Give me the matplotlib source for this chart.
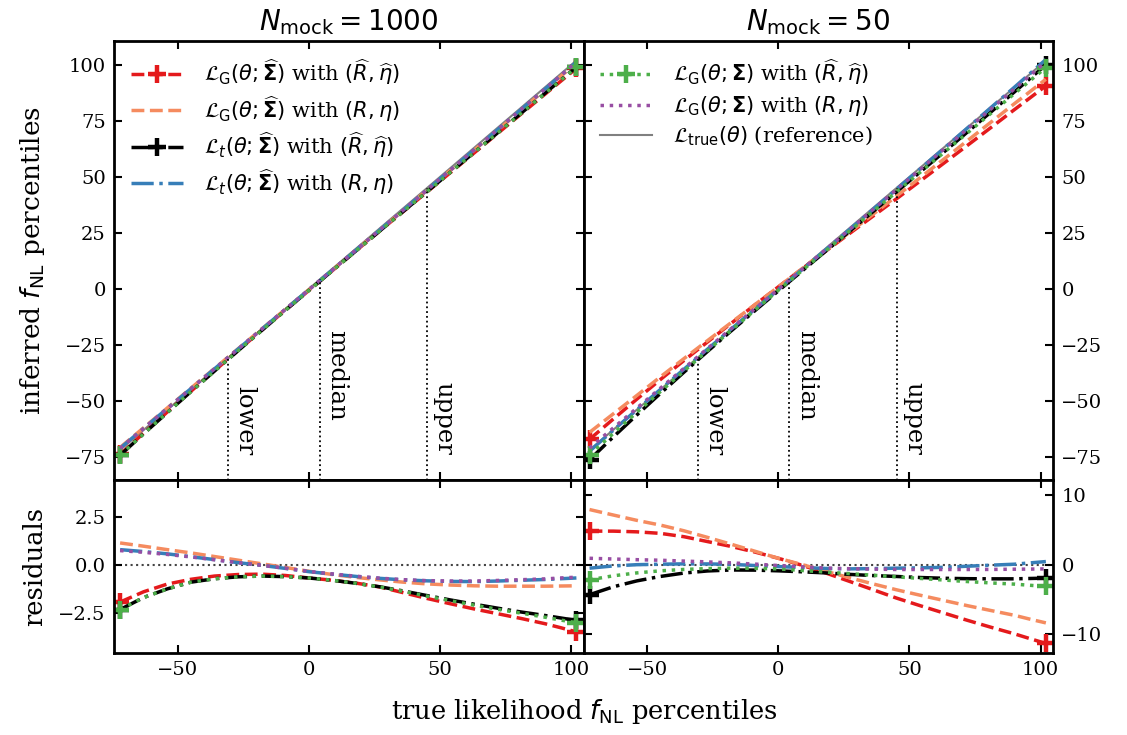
import numpy as np
import matplotlib
matplotlib.use('Agg')
import matplotlib.pyplot as plt

plt.rcParams['font.family'] = 'DejaVu Serif'
plt.rcParams['mathtext.fontset'] = 'dejavusans'
plt.rcParams['axes.linewidth'] = 2.0

# true likelihood percentiles (x axis)
x_true = np.array([-72, -63, -54, -45, -36, -27, -18, -9, 0, 9, 18, 27, 36, 45, 54, 63, 72, 81, 90, 96, 102])
# lower / median / upper of the true likelihood
pct_lines = [-30.7, 4.2, 45.2]
pct_names = ['lower', 'median', 'upper']

# residuals (inferred - true), N_mock = 1000
res1000_G_hat = [-1.94, -1.40, -1.00, -0.75, -0.58, -0.50, -0.48, -0.55, -0.68, -0.80, -0.95, -1.15, -1.45,
                 -1.75, -2.03, -2.30, -2.55, -2.80, -3.07, -3.28, -3.50]
res1000_G_true = [1.15, 0.98, 0.80, 0.63, 0.44, 0.25, 0.06, -0.13, -0.33, -0.50, -0.65, -0.78, -0.90,
                  -0.99, -1.05, -1.09, -1.11, -1.11, -1.11, -1.10, -1.09]
res1000_t_hat = [-2.33, -1.70, -1.25, -0.90, -0.72, -0.62, -0.58, -0.61, -0.68, -0.80, -0.96, -1.14, -1.36,
                 -1.60, -1.83, -2.05, -2.26, -2.46, -2.64, -2.77, -2.90]
res1000_t_true = [0.80, 0.70, 0.58, 0.43, 0.28, 0.12, -0.02, -0.18, -0.35, -0.48, -0.60, -0.70, -0.78,
                  -0.83, -0.86, -0.87, -0.84, -0.80, -0.76, -0.72, -0.68]
res1000_GS_hat = [-2.33, -1.70, -1.25, -0.90, -0.72, -0.62, -0.58, -0.61, -0.68, -0.80, -0.96, -1.15, -1.38,
                  -1.63, -1.87, -2.10, -2.32, -2.52, -2.73, -2.88, -3.02]
res1000_GS_true = [0.75, 0.66, 0.55, 0.42, 0.27, 0.12, -0.02, -0.17, -0.34, -0.47, -0.59, -0.69, -0.77,
                   -0.82, -0.84, -0.84, -0.81, -0.77, -0.73, -0.68, -0.64]

# residuals, N_mock = 50
res50_G_hat = [4.80, 4.80, 4.70, 4.48, 4.00, 3.30, 2.60, 1.80, 0.90, -0.10, -1.20, -2.40, -3.60,
               -4.81, -5.90, -6.95, -8.00, -9.00, -9.95, -10.65, -11.33]
res50_G_true = [7.90, 7.12, 6.35, 5.67, 4.85, 3.90, 2.92, 1.92, 0.90, 0.00, -0.95, -1.88, -2.77,
                -3.62, -4.40, -5.15, -5.90, -6.60, -7.29, -7.85, -8.38]
res50_t_hat = [-4.33, -3.20, -2.35, -1.71, -1.22, -0.92, -0.78, -0.80, -0.90, -1.04, -1.20, -1.41, -1.58,
               -1.71, -1.86, -1.97, -2.03, -2.05, -2.05, -2.00, -1.95]
res50_t_true = [-0.52, -0.20, -0.02, 0.05, 0.10, 0.09, 0.03, -0.14, -0.29, -0.43, -0.56, -0.62, -0.58,
                -0.52, -0.47, -0.40, -0.24, -0.09, 0.05, 0.24, 0.43]
res50_GS_hat = [-2.19, -1.62, -1.20, -0.90, -0.70, -0.58, -0.52, -0.55, -0.62, -0.85, -1.08, -1.30, -1.53,
                -1.76, -1.99, -2.22, -2.44, -2.64, -2.81, -2.98, -3.14]
res50_GS_true = [0.90, 0.80, 0.70, 0.62, 0.50, 0.38, 0.24, 0.07, -0.14, -0.32, -0.50, -0.60, -0.66,
                 -0.71, -0.71, -0.71, -0.71, -0.70, -0.67, -0.65, -0.62]

lab_G_hat = r'$\mathcal{L}_{\rm G}(\theta;\widehat{\mathbf{\Sigma}})$ with $(\widehat{R},\widehat{\eta})$'
lab_G_true = r'$\mathcal{L}_{\rm G}(\theta;\widehat{\mathbf{\Sigma}})$ with $(R,\eta)$'
lab_t_hat = r'$\mathcal{L}_t(\theta;\widehat{\mathbf{\Sigma}})$ with $(\widehat{R},\widehat{\eta})$'
lab_t_true = r'$\mathcal{L}_t(\theta;\widehat{\mathbf{\Sigma}})$ with $(R,\eta)$'
lab_GS_hat = r'$\mathcal{L}_{\rm G}(\theta;\mathbf{\Sigma})$ with $(\widehat{R},\widehat{\eta})$'
lab_GS_true = r'$\mathcal{L}_{\rm G}(\theta;\mathbf{\Sigma})$ with $(R,\eta)$'
lab_ref = r'$\mathcal{L}_{\rm true}(\theta)$ (reference)'

c_red, c_orange, c_blue, c_green, c_purple = '#e41a1c', '#f58b5f', '#377eb8', '#4daf4a', '#984ea3'

fig = plt.figure(figsize=(11.27, 7.35), dpi=100)
gs = fig.add_gridspec(2, 2, height_ratios=[2.53, 1], left=0.1012, right=0.9343,
                      top=0.9442, bottom=0.1116, hspace=0, wspace=0)

panels = [
    ('1000', [res1000_G_hat, res1000_G_true, res1000_t_hat, res1000_t_true, res1000_GS_hat, res1000_GS_true], (-4.6, 4.46), [-2.5, 0, 2.5]),
    ('50', [res50_G_hat, res50_G_true, res50_t_hat, res50_t_true, res50_GS_hat, res50_GS_true], (-12.7, 12.2), [-10, 0, 10]),
]
styles = [
    dict(color=c_red, ls='--', marker='+', label=lab_G_hat),
    dict(color=c_orange, ls='--', label=lab_G_true),
    dict(color='k', ls='-.', marker='+', label=lab_t_hat),
    dict(color=c_blue, ls='-.', label=lab_t_true),
    dict(color=c_green, ls=':', marker='+', label=lab_GS_hat),
    dict(color=c_purple, ls=':', label=lab_GS_true),
]

for col, (nmock, resids, rlim, rticks) in enumerate(panels):
    ax = fig.add_subplot(gs[0, col])
    axr = fig.add_subplot(gs[1, col], sharex=ax)
    for res, st in zip(resids, styles):
        res = np.array(res)
        kw = dict(lw=2.5, markevery=[0, -1], ms=13, mew=3.2)
        ax.plot(x_true, x_true + res, **st, **kw)
        axr.plot(x_true, res, **st, **kw)
    ax.plot(x_true, x_true, color='gray', lw=1.5, zorder=0, label=lab_ref)
    axr.axhline(0, color='#444444', ls=':', lw=1.5, zorder=0)

    ax.set_ylim(-85.2, 110.7)
    ax.set_xlim(-74.3, 104.7)
    for p, name, ty in zip(pct_lines, pct_names, [-43.5, -18.5, -41.5]):
        ax.plot([p, p], [-90, p], color='k', ls=':', lw=1.3)
        ax.text(p + 2.0, ty, name, rotation=-90, ha='left', va='top', fontsize=17.5)

    ax.set_yticks([-75, -50, -25, 0, 25, 50, 75, 100])
    ax.set_xticks([-50, 0, 50, 100])
    axr.set_ylim(*rlim)
    axr.set_yticks(rticks)
    ax.set_title(r'$N_{\rm mock} = %s$' % nmock, fontsize=20, pad=8)

    for a in (ax, axr):
        a.tick_params(direction='in', top=True, right=True, length=6, width=1.5,
                      labelsize=14, pad=6)
    ax.tick_params(labelbottom=False)
    if col == 1:
        for a in (ax, axr):
            a.tick_params(labelleft=False, labelright=True)

    handles, labels = ax.get_legend_handles_labels()
    leg_kw = dict(loc='upper left', frameon=False, fontsize=15, handlelength=2.5,
                  handletextpad=1.0, labelspacing=0.33, borderaxespad=0.4)
    if col == 0:
        ax.legend(handles[:4], labels[:4], **leg_kw)
        ax.set_ylabel(r'inferred $f_{\rm NL}$ percentiles', fontsize=19, labelpad=8)
        axr.set_ylabel('residuals', fontsize=18.5, labelpad=8)
    else:
        ax.legend(handles[4:], labels[4:], **leg_kw)

fig.align_ylabels()
fig.text(0.518, 0.022, r'true likelihood $f_{\rm NL}$ percentiles', ha='center', fontsize=18.5)

plt.savefig('out.png', dpi=100)
